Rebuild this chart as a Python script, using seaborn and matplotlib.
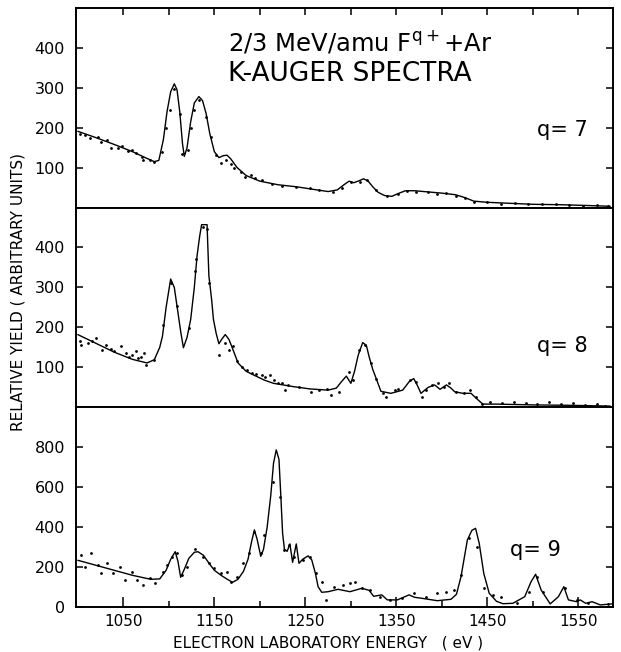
import matplotlib
matplotlib.use("Agg")
import matplotlib.pyplot as plt
import pandas as pd
import seaborn as sns

# ---------------- data ----------------
# q = 7 : fitted curve
q7_line_e = [1000, 1020, 1040, 1060, 1075, 1084, 1089, 1094, 1098, 1102, 1106, 1109, 1112, 1115,
             1117, 1120, 1124, 1128, 1133, 1137, 1141, 1145, 1150, 1155, 1160, 1164, 1168, 1175,
             1185, 1200, 1220, 1240, 1260, 1275, 1285, 1293, 1298, 1303, 1309, 1314, 1319, 1324,
             1330, 1337, 1345, 1352, 1360, 1370, 1385, 1400, 1415, 1425, 1435, 1450, 1470, 1500,
             1530, 1560, 1585]
q7_line_y = [191, 175, 158, 140, 124, 115, 118, 170, 240, 290, 310, 295, 240, 160,
             128, 150, 215, 262, 278, 268, 235, 185, 140, 125, 130, 131, 122, 100,
             80, 66, 57, 52, 45, 40, 44, 58, 66, 62, 67, 72, 66, 52,
             38, 30, 28, 35, 42, 42, 39, 36, 32, 25, 16, 13, 11, 8,
             7, 5, 3]
# q = 7 : measured points
q7_dot_e = [1002, 1008, 1013, 1022, 1026, 1032, 1037, 1044, 1048, 1055, 1059, 1064, 1070, 1072,
            1079, 1084, 1092, 1097, 1101, 1106, 1112, 1115, 1121, 1124, 1128, 1133, 1141, 1146,
            1152, 1157, 1163, 1168, 1172, 1179, 1184, 1190, 1195, 1202, 1213, 1224, 1240, 1255,
            1265, 1280, 1290, 1300, 1310, 1318, 1328, 1340, 1352, 1362, 1372, 1385, 1395, 1405,
            1415, 1425, 1435, 1450, 1465, 1480, 1495, 1510, 1525, 1540, 1555, 1570, 1582]
q7_dot_y = [184, 181, 175, 177, 165, 169, 150, 150, 154, 142, 145, 137, 127, 119,
            120, 115, 140, 198, 244, 298, 235, 135, 144, 198, 244, 270, 227, 177,
            131, 112, 119, 110, 98, 90, 77, 81, 73, 69, 60, 54, 52, 48,
            44, 40, 50, 64, 63, 70, 45, 30, 33, 42, 40, 38, 35, 37,
            30, 25, 15, 13, 10, 12, 9, 8, 9, 6, 5, 7, 3]

# q = 8 : fitted curve
q8_line_e = [1000, 1020, 1040, 1060, 1076, 1084, 1090, 1093, 1097, 1102, 1106, 1109, 1113, 1116,
             1120, 1124, 1128, 1131, 1134, 1136, 1142, 1144, 1147, 1149, 1152, 1155, 1158, 1162,
             1166, 1169, 1176, 1185, 1193, 1205, 1215, 1236, 1255, 1275, 1284, 1290, 1295, 1300,
             1304, 1308, 1313, 1317, 1320, 1324, 1327, 1333, 1344, 1357, 1364, 1369, 1373, 1377,
             1385, 1392, 1398, 1405, 1410, 1414, 1423, 1432, 1438, 1445, 1460, 1500, 1540, 1585]
q8_line_y = [182, 160, 138, 120, 111, 119, 150, 178, 250, 321, 300, 253, 190, 149,
             175, 220, 300, 379, 430, 457, 457, 329, 270, 220, 185, 159, 170, 182,
             170, 153, 111, 90, 81, 68, 60, 52, 46, 43, 48, 65, 78, 60,
             90, 130, 162, 155, 127, 95, 77, 40, 35, 43, 64, 72, 55, 35,
             50, 56, 45, 56, 48, 39, 35, 35, 22, 8, 8, 6, 5, 3]
# q = 8 : measured points
q8_dot_e = [1002, 1004, 1011, 1016, 1020, 1027, 1031, 1037, 1040, 1047, 1053, 1056, 1060, 1064,
            1066, 1069, 1073, 1075, 1084, 1094, 1102, 1109, 1122, 1129, 1130, 1138, 1142, 1144,
            1155, 1162, 1166, 1171, 1175, 1180, 1186, 1191, 1196, 1202, 1206, 1211, 1215, 1220,
            1224, 1228, 1231, 1243, 1256, 1265, 1274, 1278, 1287, 1298, 1302, 1309, 1315, 1322,
            1328, 1335, 1339, 1348, 1352, 1365, 1372, 1378, 1383, 1389, 1396, 1402, 1408, 1415,
            1424, 1431, 1438, 1444, 1453, 1466, 1479, 1492, 1505, 1518, 1531, 1544, 1557, 1570,
            1579]
q8_dot_y = [165, 157, 161, 165, 174, 144, 157, 146, 140, 153, 136, 127, 130, 140,
            123, 127, 136, 107, 119, 207, 312, 253, 199, 342, 371, 451, 447, 312,
            130, 161, 144, 154, 115, 102, 94, 86, 84, 80, 77, 81, 69, 60,
            62, 44, 56, 52, 39, 43, 47, 31, 39, 89, 68, 143, 156, 110,
            72, 35, 27, 43, 47, 68, 64, 27, 43, 56, 62, 52, 60, 39,
            37, 43, 27, 8, 14, 10, 14, 12, 8, 14, 8, 10, 6, 8,
            3]

# q = 9 : fitted curve
q9_line_e = [1000, 1020, 1040, 1060, 1080, 1090, 1097, 1102, 1107, 1110, 1113, 1117, 1122, 1128,
             1132, 1138, 1145, 1150, 1158, 1165, 1170, 1176, 1182, 1187, 1191, 1194, 1197, 1201,
             1204, 1208, 1212, 1215, 1218, 1221, 1223, 1225, 1227, 1230, 1233, 1236, 1240, 1243,
             1247, 1253, 1257, 1261, 1264, 1268, 1275, 1286, 1299, 1312, 1320, 1325, 1334, 1340,
             1351, 1364, 1370, 1378, 1395, 1410, 1416, 1421, 1428, 1433, 1437, 1441, 1446, 1452,
             1460, 1467, 1478, 1491, 1498, 1503, 1509, 1519, 1528, 1534, 1539, 1548, 1552, 1558,
             1565, 1574, 1587]
q9_line_y = [235, 210, 185, 160, 140, 142, 185, 240, 278, 230, 150, 190, 245, 275,
             278, 260, 215, 185, 158, 138, 125, 140, 180, 240, 330, 387, 340, 255,
             290, 400, 560, 720, 787, 740, 560, 370, 290, 280, 317, 225, 317, 220,
             240, 257, 237, 170, 103, 75, 78, 90, 78, 95, 85, 55, 62, 37,
             37, 62, 50, 45, 33, 40, 65, 153, 337, 385, 395, 320, 170, 70,
             30, 18, 20, 53, 128, 165, 87, 17, 53, 103, 37, 28, 37, 20,
             28, 12, 17]
# q = 9 : measured points
q9_dot_e = [1004, 1008, 1015, 1022, 1026, 1032, 1039, 1046, 1052, 1059, 1065, 1072, 1079, 1085,
            1094, 1098, 1103, 1109, 1115, 1120, 1129, 1138, 1144, 1150, 1157, 1164, 1168, 1175,
            1181, 1188, 1194, 1201, 1205, 1214, 1222, 1227, 1232, 1238, 1247, 1255, 1262, 1268,
            1273, 1282, 1291, 1299, 1304, 1312, 1321, 1332, 1343, 1356, 1369, 1382, 1395, 1404,
            1413, 1421, 1430, 1439, 1446, 1456, 1465, 1474, 1483, 1496, 1504, 1511, 1535, 1548,
            1561, 1583]
q9_dot_y = [262, 203, 270, 212, 170, 220, 170, 203, 137, 178, 137, 112, 145, 120,
            178, 212, 253, 270, 162, 203, 290, 253, 220, 195, 170, 178, 128, 153,
            220, 270, 378, 270, 362, 628, 553, 287, 312, 253, 237, 253, 170, 128,
            37, 103, 112, 123, 128, 95, 87, 53, 37, 45, 70, 53, 70, 78,
            87, 162, 345, 303, 95, 62, 53, 0, 20, 78, 153, 78, 95, 37,
            20, 17]

q_labels = ["q= 7", "q= 8", "q= 9"]
title_lines = [r"2/3 MeV/amu F$^{\mathregular{q+}}$+Ar", "K-AUGER SPECTRA"]
x_major = [1050, 1150, 1250, 1350, 1450, 1550]
x_minor = [1100, 1200, 1300, 1400, 1500]
x_top = [1050, 1100, 1150, 1200, 1250, 1300, 1350, 1400, 1450, 1500, 1550]
y_ticks_small = [100, 200, 300, 400]
y_ticks_big = [0, 200, 400, 600, 800]

# ---------------- style ----------------
sns.set_style("ticks")
plt.rcParams['font.family'] = ['DejaVu Sans']
plt.rcParams['axes.linewidth'] = 1.4
plt.rcParams['text.color'] = 'black'
plt.rcParams['axes.labelcolor'] = 'black'
plt.rcParams['xtick.color'] = 'black'
plt.rcParams['ytick.color'] = 'black'
plt.rcParams['axes.edgecolor'] = 'black'

W, H = 621, 652
fig = plt.figure(figsize=(W / 100, H / 100), dpi=100)
L, R = 76, 613


def ax_at(top, bottom):
    return fig.add_axes([L / W, 1 - bottom / H, (R - L) / W, (bottom - top) / H])


ax7 = ax_at(8, 207.5)
ax8 = ax_at(207.5, 407.3)
ax9 = ax_at(407.3, 607.3)

panels = [
    (ax7, q7_line_e, q7_line_y, q7_dot_e, q7_dot_y, 500),
    (ax8, q8_line_e, q8_line_y, q8_dot_e, q8_dot_y, 500),
    (ax9, q9_line_e, q9_line_y, q9_dot_e, q9_dot_y, 1000),
]

for ax, le, ly, de, dy, ytop in panels:
    line_df = pd.DataFrame({"energy": le, "yield": ly})
    dot_df = pd.DataFrame({"energy": de, "yield": dy})
    sns.lineplot(data=line_df, x="energy", y="yield", ax=ax, color="black",
                 linewidth=1.0, sort=False, estimator=None)
    sns.scatterplot(data=dot_df, x="energy", y="yield", ax=ax, color="black",
                    s=4, linewidth=0, marker="o")
    ax.set_xlim(998, 1588)
    ax.set_ylim(0, ytop)
    ax.set_xlabel("")
    ax.set_ylabel("")
    for sp in ax.spines.values():
        sp.set_visible(True)
        sp.set_linewidth(1.4)
        sp.set_color("black")
    ax.tick_params(axis="both", direction="in", length=5, width=1.1,
                   labelsize=11.5, pad=8, colors="black")

# top panel
ax7.set_yticks(y_ticks_small)
ax7.tick_params(axis="y", left=True, right=True, labelleft=True)
ax7.set_xticks(x_top)
ax7.tick_params(axis="x", top=True, bottom=False, labelbottom=False, labeltop=False)

# middle panel
ax8.set_yticks(y_ticks_small)
ax8.tick_params(axis="y", left=True, right=True, labelleft=True)
ax8.set_xticks([])

# bottom panel
ax9.set_yticks(y_ticks_big)
ax9.tick_params(axis="y", left=True, right=True, labelleft=True)
ax9.set_xticks(x_major)
ax9.set_xticks(x_minor, minor=True)
ax9.tick_params(axis="x", which="major", bottom=True, top=False, length=7, labelsize=11, pad=5)
ax9.tick_params(axis="x", which="minor", bottom=True, top=False, direction="in", length=4, width=1.1)

# texts
ax7.text(0.283, 0.83, title_lines[0], transform=ax7.transAxes, fontsize=17.5,
         ha="left", va="center", color="black")
ax7.text(0.283, 0.668, title_lines[1], transform=ax7.transAxes, fontsize=19,
         ha="left", va="center", color="black")
ax7.text(0.858, 0.39, q_labels[0], transform=ax7.transAxes, fontsize=15, ha="left", va="center")
ax8.text(0.858, 0.307, q_labels[1], transform=ax8.transAxes, fontsize=15, ha="left", va="center")
ax9.text(0.808, 0.287, q_labels[2], transform=ax9.transAxes, fontsize=15, ha="left", va="center")

fig.text(18 / W, 1 - 292 / H, "RELATIVE YIELD ( ARBITRARY UNITS)", rotation=90,
         fontsize=11, ha="center", va="center")
fig.text(328 / W, 1 - 643 / H, "ELECTRON LABORATORY ENERGY   ( eV )",
         fontsize=11, ha="center", va="center")

fig.savefig("out.png", dpi=100, facecolor="white")
